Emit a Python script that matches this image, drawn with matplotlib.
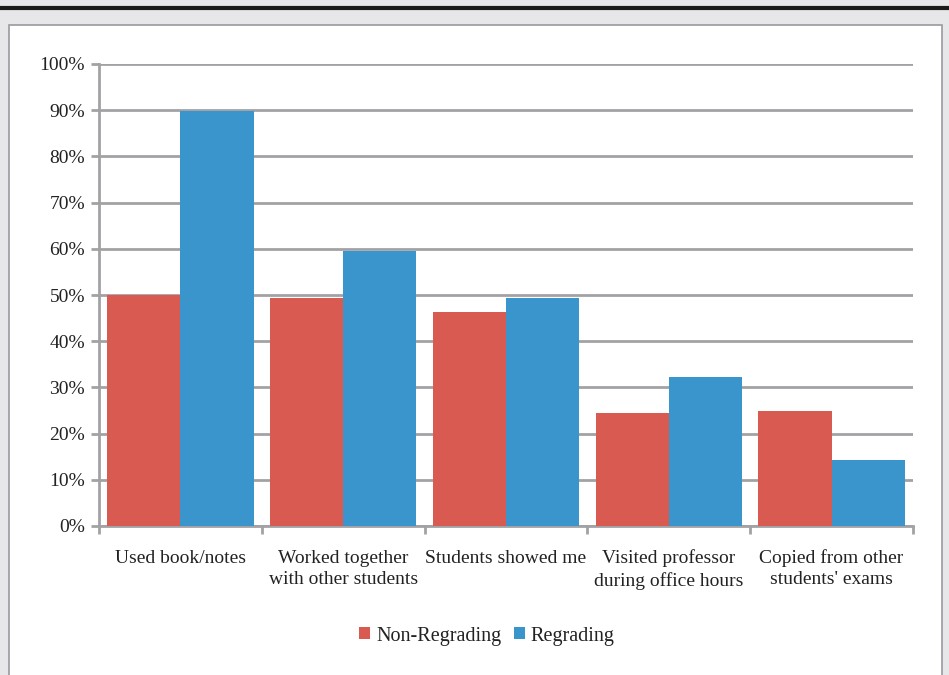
import numpy as np
import matplotlib.pyplot as plt
from matplotlib.patches import Rectangle
from matplotlib.lines import Line2D

# Survey results by study strategy
categories = ['Used book/notes', 'Worked together\nwith other students', 'Students showed me',
              'Visited professor\nduring office hours', "Copied from other\nstudents' exams"]
non_regrading = [50.0, 49.4, 46.3, 24.5, 24.8]
regrading = [89.8, 59.6, 49.4, 32.2, 14.3]
yticks = list(range(0, 101, 10))

plt.rcParams['font.family'] = ['Liberation Serif', 'DejaVu Serif']

red = '#d95a51'
blue = '#3995cb'
grid = '#a2a2a6'
fs = 14

fig = plt.figure(figsize=(9.49, 6.75), dpi=100)
fig.patch.set_facecolor('#e7e7e9')

# white panel with a dark rule across the top
fig.add_artist(Rectangle((9 / 949, -0.01), 933 / 949, 1 - 25 / 675 + 0.01,
                         transform=fig.transFigure, facecolor='white',
                         edgecolor='#9a9a9e', linewidth=1.2, zorder=0))
fig.add_artist(Line2D([0, 1], [1 - 8 / 675, 1 - 8 / 675], transform=fig.transFigure,
                      color='#1a1a1a', linewidth=3))

ax = fig.add_axes([99 / 949, 1 - 526 / 675, (913 - 99) / 949, (526 - 64) / 675])
ax.set_facecolor('none')

x = np.arange(len(categories))
w = 0.45
ax.bar(x - w / 2, non_regrading, width=w, color=red, label='Non-Regrading', zorder=3)
ax.bar(x + w / 2, regrading, width=w, color=blue, label='Regrading', zorder=3)

ax.set_xlim(-0.5, len(categories) - 0.5)
ax.set_ylim(0, 100)
ax.set_yticks(yticks)
ax.set_yticklabels([f'{v}%' for v in yticks], fontsize=fs, color='#222222')
ax.yaxis.grid(True, color=grid, linewidth=2, zorder=0)

# category labels centered, ticks at group boundaries
ax.set_xticks(np.arange(len(categories) + 1) - 0.5)
ax.set_xticklabels([])
ax.set_xticks(x, minor=True)
ax.set_xticklabels(categories, minor=True, fontsize=fs, color='#222222', linespacing=1.3)
ax.tick_params(axis='x', which='minor', length=0, pad=17)
ax.tick_params(axis='x', which='major', length=6, width=2, color=grid)
ax.tick_params(axis='y', length=6, width=2, color=grid, pad=4)

for side in ['top', 'right']:
    ax.spines[side].set_visible(False)
for side in ['left', 'bottom']:
    ax.spines[side].set_color(grid)
    ax.spines[side].set_linewidth(2)

fig.legend(loc='center', bbox_to_anchor=(487 / 949, 1 - 636 / 675), ncol=2, frameon=False,
           fontsize=14.5, handlelength=0.55, handleheight=0.55, handletextpad=0.3,
           columnspacing=0.6, labelcolor='#222222')

fig.savefig('out.png', dpi=100, facecolor=fig.get_facecolor())
